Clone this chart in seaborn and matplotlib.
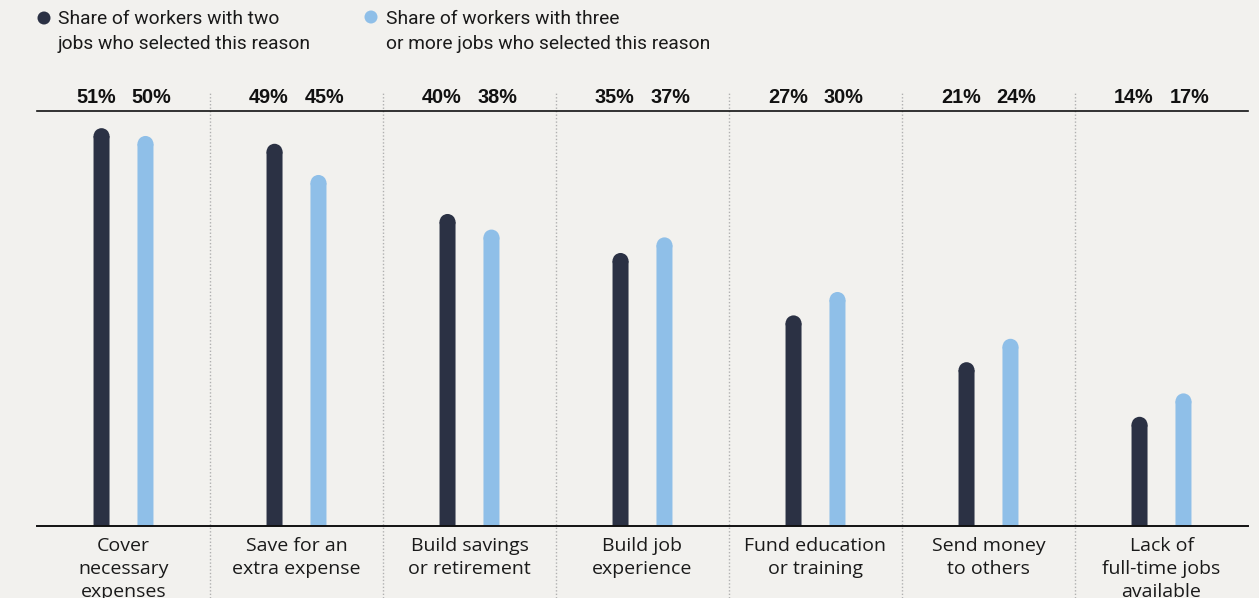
import matplotlib
matplotlib.use("Agg")
import matplotlib.pyplot as plt
from matplotlib.patches import Ellipse
import seaborn as sns
import pandas as pd

categories = ["Cover\nnecessary\nexpenses", "Save for an\nextra expense", "Build savings\nor retirement",
              "Build job\nexperience", "Fund education\nor training", "Send money\nto others",
              "Lack of\nfull-time jobs\navailable"]
two_jobs = [51, 49, 40, 35, 27, 21, 14]
three_jobs = [50, 45, 38, 37, 30, 24, 17]
series_names = ["Share of workers with two\njobs who selected this reason",
                "Share of workers with three\nor more jobs who selected this reason"]
colors = ["#2b3144", "#8fbfe8"]
bg = "#f2f1ee"

sns.set_theme(style="white")
plt.rcParams["font.family"] = ["Roboto", "DejaVu Sans"]

df = pd.DataFrame({
    "cat": categories * 2,
    "val": two_jobs + three_jobs,
    "series": [series_names[0]] * len(categories) + [series_names[1]] * len(categories),
})

W, H = 1259, 598
fig = plt.figure(figsize=(W / 100, H / 100), dpi=100, facecolor=bg)
ax = fig.add_axes([37 / W, (H - 526) / H, (1248 - 37) / W, (526 - 111) / H])
ax.set_facecolor(bg)

sns.barplot(data=df, x="cat", y="val", hue="series", order=categories, hue_order=series_names,
            palette=colors, width=0.508, dodge=True, legend=False, ax=ax,
            saturation=1, edgecolor="none", linewidth=0)

ymax = 53.2
ax.set_ylim(0, ymax)
ax.set_xlim(-0.5, len(categories) - 0.5)

# slim bars with rounded tops
px_per_unit_x = (1248 - 37) / len(categories)
px_per_unit_y = (526 - 111) / ymax
bar_w = 16 / px_per_unit_x
r_y = 8 / px_per_unit_y
for p in list(ax.patches):
    x, w, h = p.get_x(), p.get_width(), p.get_height()
    if h <= 0:
        continue
    cx = x + w / 2
    p.set_x(cx - bar_w / 2)
    p.set_width(bar_w)
    p.set_height(h - r_y * 0.98)
    p.set_snap(False)
    p.set_linewidth(0)
    e = Ellipse((cx, h - r_y), bar_w, 2 * r_y, facecolor=p.get_facecolor(), edgecolor="none",
                linewidth=0)
    ax.add_patch(e)

ax.set_xlabel("")
ax.set_ylabel("")
ax.set_yticks([])
ax.set_xticks([])
for s in ["left", "right"]:
    ax.spines[s].set_visible(False)
ax.spines["bottom"].set_color("#111111")
ax.spines["bottom"].set_linewidth(1.4)
ax.spines["top"].set_color("#111111")
ax.spines["top"].set_linewidth(1.2)

# separators
top_ext = 1 + (111 - 92) / (526 - 111)
bot_ext = -(598 - 526) / (526 - 111)
for i in range(len(categories) - 1):
    ax.plot([i + 0.5, i + 0.5], [bot_ext, top_ext], transform=ax.get_xaxis_transform(),
            color="#b0b0b0", lw=1, ls=(0, (1, 1.5)), clip_on=False, zorder=0)

# value labels above top line
lab_y = 1 + (111 - 97.5) / (526 - 111)
for i in range(len(categories)):
    for val, off in ((two_jobs[i], -0.16), (three_jobs[i], 0.16)):
        ax.text(i + off, lab_y, f"{val}%", transform=ax.get_xaxis_transform(),
                ha="center", va="center", fontsize=14.3, fontweight="bold", color="#111111",
                family=["Liberation Sans", "DejaVu Sans"])

# category labels
cat_y = -(537 - 526) / (526 - 111)
for i, c in enumerate(categories):
    ax.text(i, cat_y, c, transform=ax.get_xaxis_transform(), ha="center", va="top",
            fontsize=14, color="#1a1a1a", linespacing=1.37,
            family=["Open Sans", "DejaVu Sans"])

# legend
leg = [(44, 18, 58, series_names[0], colors[0]), (371, 17, 386, series_names[1], colors[1])]
for mx, my, tx, txt, col in leg:
    fig.patches.append(Ellipse((mx / W, 1 - my / H), 13 / W, 13 / H, transform=fig.transFigure,
                               facecolor=col, edgecolor="none"))
    fig.text(tx / W, 1 - 10 / H, txt, ha="left", va="top", fontsize=13.8, color="#1a1a1a",
             linespacing=1.52)

fig.savefig("out.png", dpi=100, facecolor=bg)
